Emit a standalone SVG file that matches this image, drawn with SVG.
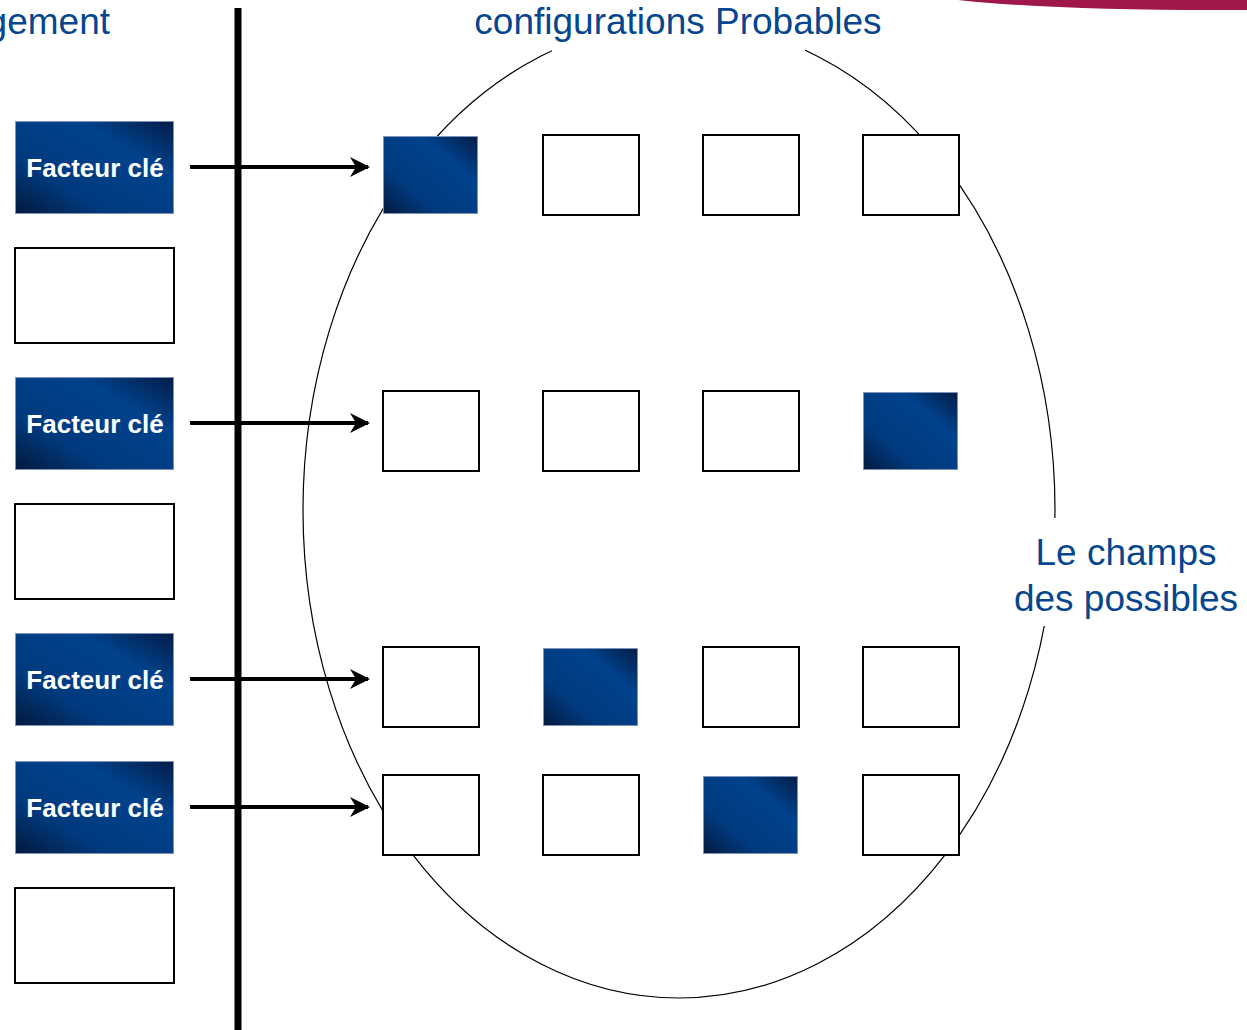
<svg xmlns="http://www.w3.org/2000/svg" width="1247" height="1030" viewBox="0 0 1247 1030">
<defs>
<linearGradient id="dk" x1="0" y1="1" x2="1" y2="0">
<stop offset="0" stop-color="#021a3d"/>
<stop offset="0.3" stop-color="#003a7e"/>
<stop offset="0.7" stop-color="#00428c"/>
<stop offset="1" stop-color="#021d48"/>
</linearGradient>
<marker id="ah" viewBox="0 0 10 10" refX="9" refY="5" markerWidth="5" markerHeight="5" orient="auto" markerUnits="strokeWidth">
<path d="M0,0 L10,5 L0,10 L3,5 Z" fill="#000"/>
</marker>
</defs>
<style>
.t{font-family:"Liberation Sans",Arial,sans-serif;fill:#05468f;font-size:37px}
.k{font-family:"Liberation Sans",Arial,sans-serif;fill:#fff;font-size:26px;font-weight:bold;text-anchor:middle}
.w{fill:#fff;stroke:#000;stroke-width:2}
.d{fill:url(#dk);stroke:#7f94b8;stroke-width:1}
.a{stroke:#000;stroke-width:4;fill:none;marker-end:url(#ah)}
</style>
<rect width="1247" height="1030" fill="#fff"/>
<path d="M958,0 Q1060,11 1247,10 L1247,0 Z" fill="#a0174b"/>
<ellipse cx="679" cy="510" rx="376" ry="488" fill="none" stroke="#000" stroke-width="1.2"/>
<rect x="552" y="0" width="253" height="52" fill="#fff"/>
<rect x="1010" y="518" width="60" height="108" fill="#fff"/>
<text class="t" x="110" y="34" text-anchor="end">gement</text>
<text class="t" x="678" y="34" text-anchor="middle">configurations Probables</text>
<text class="t" x="1126" y="565" text-anchor="middle">Le champs</text>
<text class="t" x="1126" y="611" text-anchor="middle">des possibles</text>
<g id="connectors">
<line x1="238" y1="8" x2="238" y2="1030" stroke="#000" stroke-width="7"/>
<line class="a" x1="190" y1="167" x2="368" y2="167"/>
<line class="a" x1="190" y1="423" x2="368" y2="423"/>
<line class="a" x1="190" y1="679" x2="368" y2="679"/>
<line class="a" x1="190" y1="807" x2="368" y2="807"/>
</g>
<g id="k1"><rect class="d" x="15.5" y="121.5" width="158" height="92"/><text class="k" x="95" y="177">Facteur clé</text></g>
<g id="b1"><rect class="w" x="15" y="248" width="159" height="95"/></g>
<g id="k2"><rect class="d" x="15.5" y="377.5" width="158" height="92"/><text class="k" x="95" y="433">Facteur clé</text></g>
<g id="b2"><rect class="w" x="15" y="504" width="159" height="95"/></g>
<g id="k3"><rect class="d" x="15.5" y="633.5" width="158" height="92"/><text class="k" x="95" y="689">Facteur clé</text></g>
<g id="k4"><rect class="d" x="15.5" y="761.5" width="158" height="92"/><text class="k" x="95" y="817">Facteur clé</text></g>
<g id="b3"><rect class="w" x="15" y="888" width="159" height="95"/></g>
<g id="r1c1"><rect class="d" x="383.5" y="136.5" width="94" height="77"/></g>
<g id="r1c2"><rect class="w" x="543" y="135" width="96" height="80"/></g>
<g id="r1c3"><rect class="w" x="703" y="135" width="96" height="80"/></g>
<g id="r1c4"><rect class="w" x="863" y="135" width="96" height="80"/></g>
<g id="r2c1"><rect class="w" x="383" y="391" width="96" height="80"/></g>
<g id="r2c2"><rect class="w" x="543" y="391" width="96" height="80"/></g>
<g id="r2c3"><rect class="w" x="703" y="391" width="96" height="80"/></g>
<g id="r2c4"><rect class="d" x="863.5" y="392.5" width="94" height="77"/></g>
<g id="r3c1"><rect class="w" x="383" y="647" width="96" height="80"/></g>
<g id="r3c2"><rect class="d" x="543.5" y="648.5" width="94" height="77"/></g>
<g id="r3c3"><rect class="w" x="703" y="647" width="96" height="80"/></g>
<g id="r3c4"><rect class="w" x="863" y="647" width="96" height="80"/></g>
<g id="r4c1"><rect class="w" x="383" y="775" width="96" height="80"/></g>
<g id="r4c2"><rect class="w" x="543" y="775" width="96" height="80"/></g>
<g id="r4c3"><rect class="d" x="703.5" y="776.5" width="94" height="77"/></g>
<g id="r4c4"><rect class="w" x="863" y="775" width="96" height="80"/></g>
</svg>
